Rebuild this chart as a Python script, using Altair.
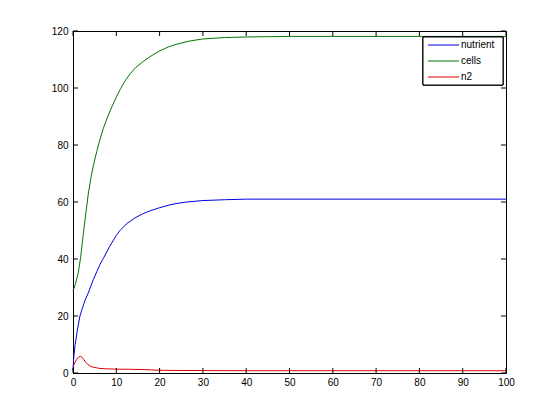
import altair as alt
import pandas as pd

# ---- data ----
nutrient_t = [0, 0.2, 0.5, 1.0, 1.6, 2.0, 2.8, 3.5, 4.7, 5.5, 6.2, 7.0, 8.5, 10, 11, 12.5, 14.3, 16, 17.8, 20, 22.4, 24, 26.3, 30, 35, 40, 50, 60, 70, 80, 90, 100]
nutrient_v = [1, 6, 10, 15, 20, 22, 25.6, 28, 32.8, 35.6, 38, 40.2, 44.5, 48.3, 50.3, 52.5, 54.4, 55.8, 56.9, 58, 59, 59.5, 60, 60.5, 60.8, 61, 61, 61, 61, 61, 61, 61]

cells_t = [0, 0.25, 0.6, 1.2, 1.8, 2.4, 3.0, 3.5, 4.1, 4.7, 5.5, 6.2, 7.0, 8.0, 9.0, 10, 11, 12, 13.2, 14.5, 16.2, 18, 20, 22, 24, 27, 30, 35, 40, 50, 60, 70, 80, 90, 100]
cells_v = [29, 29.8, 31.5, 35, 41, 49, 56.5, 62.5, 68.2, 72.8, 77.8, 81.8, 85.8, 89.9, 93.5, 96.8, 99.8, 102.4, 105, 107.2, 109.3, 111.2, 113, 114.4, 115.4, 116.5, 117.2, 117.7, 117.9, 118.1, 118.1, 118.1, 118.1, 118.1, 118.1]

n2_t = [0, 0.4, 0.85, 1.3, 1.7, 2.1, 2.5, 3.0, 3.5, 4.0, 4.7, 5.5, 6.2, 8, 10, 13, 16.5, 20, 25, 30, 40, 50, 60, 70, 80, 90, 100]
n2_v = [2.2, 3.5, 4.8, 5.6, 5.9, 5.5, 4.7, 3.7, 2.9, 2.4, 2.0, 1.8, 1.6, 1.45, 1.35, 1.3, 1.2, 0.95, 0.88, 0.85, 0.8, 0.8, 0.8, 0.8, 0.8, 0.8, 0.8]

series_names = ["nutrient", "cells", "n2"]
series_colors = ["#0000e0", "#007400", "#e00000"]

x_ticks = [0, 10, 20, 30, 40, 50, 60, 70, 80, 90, 100]
y_ticks = [0, 20, 40, 60, 80, 100, 120]

rows = []
for name, ts, vs in zip(series_names, [nutrient_t, cells_t, n2_t], [nutrient_v, cells_v, n2_v]):
    for i, (t, v) in enumerate(zip(ts, vs)):
        rows.append({"series": name, "t": t, "v": v, "order": i})
df = pd.DataFrame(rows)

W, H = 433, 342
TL = 5

xs = alt.Scale(domain=[0, 100], nice=False, zero=False)
ys = alt.Scale(domain=[0, 120], nice=False, zero=False)
cs = alt.Scale(domain=series_names, range=series_colors)

x_axis = alt.Axis(values=x_ticks, ticks=False, labelPadding=4, title=None,
                  grid=False, domainColor="black", labelFlush=False)
y_axis = alt.Axis(values=y_ticks, ticks=False, labelPadding=5, title=None,
                  grid=False, domainColor="black")

lines = alt.Chart(df).mark_line(strokeWidth=1).encode(
    x=alt.X("t:Q", scale=xs, axis=x_axis),
    y=alt.Y("v:Q", scale=ys, axis=y_axis),
    color=alt.Color("series:N", scale=cs, legend=None),
    order="order:Q",
)

xt = pd.DataFrame({"t": x_ticks})
yt = pd.DataFrame({"v": y_ticks})

xb = alt.Chart(xt).mark_rule(color="black", strokeWidth=1).encode(
    x=alt.X("t:Q", scale=xs, axis=x_axis), y=alt.value(H), y2=alt.value(H - TL))
xtop = alt.Chart(xt).mark_rule(color="black", strokeWidth=1).encode(
    x=alt.X("t:Q", scale=xs, axis=x_axis), y=alt.value(0), y2=alt.value(TL))
yl = alt.Chart(yt).mark_rule(color="black", strokeWidth=1).encode(
    y=alt.Y("v:Q", scale=ys, axis=None), x=alt.value(0), x2=alt.value(TL))
yr = alt.Chart(yt).mark_rule(color="black", strokeWidth=1).encode(
    y=alt.Y("v:Q", scale=ys, axis=None), x=alt.value(W), x2=alt.value(W - TL))

# ---- hand-built MATLAB-style legend (top right, inside the box) ----
leg_df = pd.DataFrame({"series": series_names})
leg_y = alt.Scale(type="point", domain=series_names, range=[14, 46], padding=0)
LX0, LX1, LY0, LY1 = 350, 430, 6, 54

leg_box = alt.Chart(leg_df).mark_rect(fill="white", stroke="black", strokeWidth=1).encode(
    x=alt.value(LX0), x2=alt.value(LX1), y=alt.value(LY0), y2=alt.value(LY1))
leg_lines = alt.Chart(leg_df).mark_rule(strokeWidth=1).encode(
    y=alt.Y("series:N", scale=leg_y, axis=None),
    x=alt.value(355), x2=alt.value(386),
    color=alt.Color("series:N", scale=cs, legend=None),
)
leg_text = alt.Chart(leg_df).mark_text(align="left", baseline="middle", fontSize=10,
                                       font="Liberation Sans", color="black").encode(
    y=alt.Y("series:N", scale=leg_y, axis=None),
    x=alt.value(388),
    text="series:N",
)

chart = alt.layer(lines, xb, xtop, yl, yr, leg_box, leg_lines, leg_text).resolve_scale(
    y="independent"
).properties(
    width=W, height=H,
    autosize=alt.AutoSizeParams(type="none"),
    padding={"left": 65, "top": 23, "right": 45, "bottom": 40},
).configure_view(stroke="black", strokeWidth=1).configure_axis(
    labelFont="Liberation Sans", labelFontSize=10, labelColor="black", domainWidth=1
)

chart.save("out.html", embed_options={"renderer": "svg", "actions": False})
